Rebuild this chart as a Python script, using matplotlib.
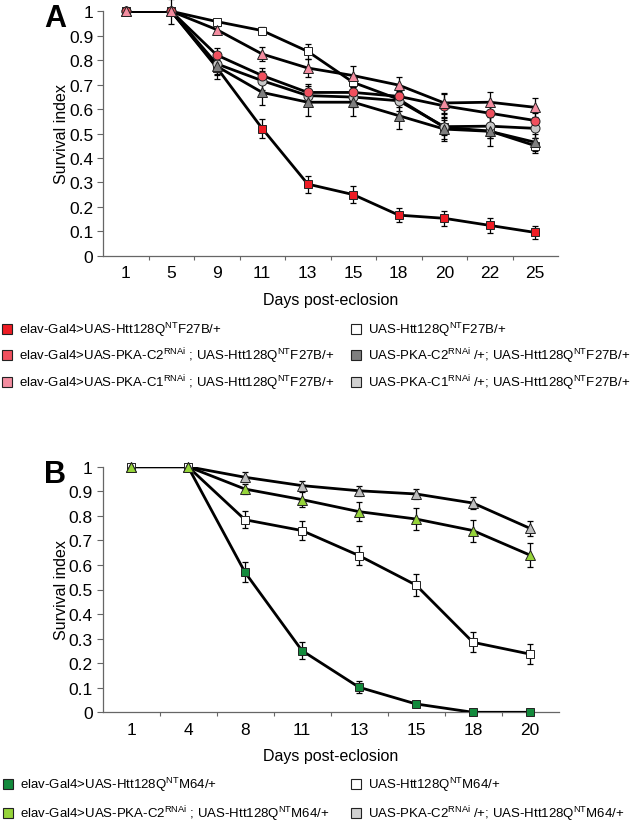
import matplotlib
matplotlib.use('Agg')
import matplotlib.pyplot as plt
from matplotlib.lines import Line2D

plt.rcParams['font.family'] = ['Liberation Sans', 'DejaVu Sans']
plt.rcParams['mathtext.default'] = 'regular'

# panel A data
days_a = ['1', '5', '9', '11', '13', '15', '18', '20', '22', '25']
htt_f27b = [1, 1, 0.77, 0.52, 0.293, 0.25, 0.166, 0.153, 0.124, 0.095]
htt_f27b_err = [0, 0, 0.03, 0.04, 0.035, 0.035, 0.03, 0.03, 0.03, 0.025]
uas_f27b = [1, 1, 0.958, 0.921, 0.836, 0.709, 0.64, 0.525, 0.51, 0.45]
uas_f27b_err = [0, 0, 0.01, 0.015, 0.03, 0.02, 0.03, 0.03, 0.03, 0.03]
c1_ctrl_a = [1, 1, 0.785, 0.716, 0.655, 0.649, 0.634, 0.528, 0.53, 0.521]
c1_ctrl_a_err = [0, 0, 0.04, 0.04, 0.04, 0.04, 0.04, 0.05, 0.05, 0.04]
c2_ctrl_a = [1, 1, 0.775, 0.668, 0.628, 0.628, 0.573, 0.518, 0.509, 0.464]
c2_ctrl_a_err = [0, 0.05, 0.05, 0.05, 0.055, 0.055, 0.055, 0.05, 0.06, 0.035]
c2_rnai_a = [1, 1, 0.821, 0.737, 0.668, 0.668, 0.652, 0.613, 0.583, 0.553]
c2_rnai_a_err = [0, 0, 0.03, 0.03, 0.035, 0.035, 0.03, 0.05, 0.04, 0.03]
c1_rnai_a = [1, 1, 0.925, 0.825, 0.768, 0.737, 0.698, 0.625, 0.628, 0.607]
c1_rnai_a_err = [0, 0, 0.015, 0.03, 0.035, 0.04, 0.035, 0.04, 0.04, 0.04]

# panel B data
days_b = ['1', '4', '8', '11', '13', '15', '18', '20']
htt_m64 = [1, 1, 0.57, 0.251, 0.102, 0.034, 0, 0]
htt_m64_err = [0, 0, 0.04, 0.035, 0.025, 0.01, 0, 0]
uas_m64 = [1, 1, 0.784, 0.74, 0.638, 0.518, 0.285, 0.237]
uas_m64_err = [0, 0, 0.035, 0.04, 0.04, 0.045, 0.04, 0.04]
c2_ctrl_b = [1, 1, 0.957, 0.923, 0.902, 0.889, 0.852, 0.749]
c2_ctrl_b_err = [0, 0, 0.02, 0.02, 0.02, 0.02, 0.025, 0.03]
c2_rnai_b = [1, 1, 0.909, 0.866, 0.817, 0.787, 0.74, 0.64]
c2_rnai_b_err = [0, 0, 0.02, 0.03, 0.04, 0.045, 0.045, 0.05]

labels_a = [r'elav-Gal4>UAS-Htt128Q$^{NT}$F27B/+',
            r'elav-Gal4>UAS-PKA-C2$^{RNAi}$ ; UAS-Htt128Q$^{NT}$F27B/+',
            r'elav-Gal4>UAS-PKA-C1$^{RNAi}$ ; UAS-Htt128Q$^{NT}$F27B/+',
            r'UAS-Htt128Q$^{NT}$F27B/+',
            r'UAS-PKA-C2$^{RNAi}$ /+; UAS-Htt128Q$^{NT}$F27B/+',
            r'UAS-PKA-C1$^{RNAi}$ /+; UAS-Htt128Q$^{NT}$F27B/+']
labels_b = [r'elav-Gal4>UAS-Htt128Q$^{NT}$M64/+',
            r'elav-Gal4>UAS-PKA-C2$^{RNAi}$ ; UAS-Htt128Q$^{NT}$M64/+',
            r'UAS-Htt128Q$^{NT}$M64/+',
            r'UAS-PKA-C2$^{RNAi}$ /+; UAS-Htt128Q$^{NT}$M64/+']

W, H = 633, 828
fig = plt.figure(figsize=(6.33, 8.28), dpi=100)


def px_axes(x0, x1, ytop, ybot):
    return fig.add_axes([x0 / W, 1 - ybot / H, (x1 - x0) / W, (ybot - ytop) / H])


def draw(ax, days, series):
    x = list(range(len(days)))
    for y, err, mk, col, ms in series:
        ax.errorbar(x, y, yerr=err, fmt='none', ecolor='black', elinewidth=0.9,
                    capsize=2, capthick=0.9, zorder=2, clip_on=False)
        # line gets clipped at y=1 like the original, markers do not
        ax.plot(x, y, color='black', lw=2.0, zorder=3)
        ax.plot(x, y, ls='none', marker=mk, ms=ms, mfc=col, mec='#222222',
                mew=0.7, zorder=4, clip_on=False)
    ax.set_xlim(-0.5, len(days) - 0.5)
    ax.set_ylim(0, 1)
    ax.set_xticks(x)
    ax.set_xticklabels(days)
    ax.set_xticks([i + 0.5 for i in x[:-1]], minor=True)
    ax.tick_params(axis='x', which='major', length=0, pad=7, labelsize=12.5)
    ax.tick_params(axis='x', which='minor', length=3, width=0.8, color='#666666')
    ax.set_yticks([i / 10 for i in range(11)])
    ax.set_yticklabels(['0'] + ['0.%d' % i for i in range(1, 10)] + ['1'])
    ax.tick_params(axis='y', length=4, width=0.8, color='#666666', labelsize=12.5, pad=3)
    for s in ['top', 'right']:
        ax.spines[s].set_visible(False)
    for s in ['left', 'bottom']:
        ax.spines[s].set_color('#666666')
        ax.spines[s].set_linewidth(0.9)
    ax.set_ylabel('Survival index', fontsize=11.5, labelpad=0)
    ax.set_xlabel('Days post-eclosion', fontsize=11.5, labelpad=8)


ax1 = px_axes(103, 558, 12.3, 256.7)
draw(ax1, days_a, [
    (htt_f27b, htt_f27b_err, 's', '#ee1c24', 6),
    (uas_f27b, uas_f27b_err, 's', 'white', 6),
    (c1_ctrl_a, c1_ctrl_a_err, 'o', '#c8c8c8', 6.5),
    (c2_ctrl_a, c2_ctrl_a_err, '^', '#7f7f7f', 7),
    (c2_rnai_a, c2_rnai_a_err, 'o', '#f0505e', 6.5),
    (c1_rnai_a, c1_rnai_a_err, '^', '#f38da0', 7),
])

ax2 = px_axes(102.5, 558.5, 467.7, 713.3)
draw(ax2, days_b, [
    (htt_m64, htt_m64_err, 's', '#138a3c', 6),
    (uas_m64, uas_m64_err, 's', 'white', 6),
    (c2_ctrl_b, c2_ctrl_b_err, '^', '#bdbdbd', 7),
    (c2_rnai_b, c2_rnai_b_err, '^', '#96d43a', 7),
])

fig.text(44 / W, 1 - 27 / H, 'A', fontsize=22, fontweight='bold', va='baseline')
fig.text(44 / W, 1 - 483 / H, 'B', fontsize=22, fontweight='bold', va='baseline')


def legend_col(labels, colors, x, ytop, spacing):
    handles = [Line2D([], [], ls='none', marker='s', ms=7, mfc=c, mec='#222222', mew=0.8)
               for c in colors]
    fig.legend(handles, labels, loc='upper left', bbox_to_anchor=(x / W, 1 - ytop / H),
               frameon=False, fontsize=9.5, handlelength=0.8, handletextpad=0.5,
               borderpad=0, borderaxespad=0, labelspacing=spacing)


legend_col(labels_a[:3], ['#ee1c24', '#f0505e', '#f38da0'], 2, 321, 0.55)
legend_col(labels_a[3:], ['white', '#7f7f7f', '#d0d0d0'], 351, 321, 0.55)
legend_col(labels_b[:2], ['#138a3c', '#96d43a'], 3, 776, 0.8)
legend_col(labels_b[2:], ['white', '#d0d0d0'], 351, 776, 0.8)

fig.savefig('out.png', dpi=100)
